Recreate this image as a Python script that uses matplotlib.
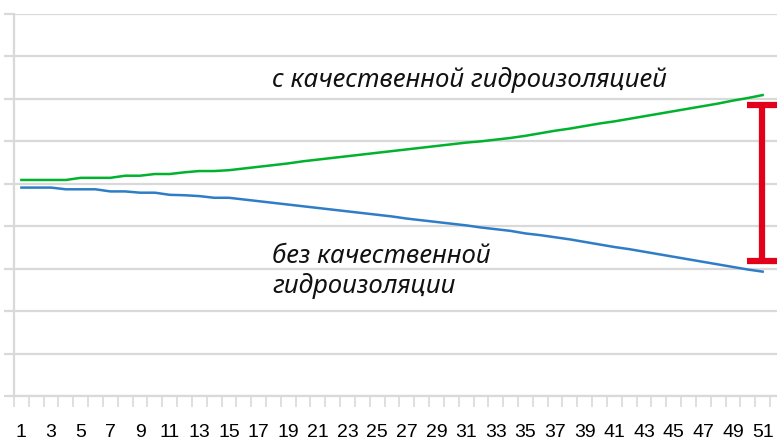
import matplotlib
matplotlib.use("Agg")
import matplotlib.pyplot as plt
from matplotlib.ticker import MultipleLocator

years = list(range(1, 52))
with_wp = [5.09, 5.09, 5.09, 5.09, 5.14, 5.14, 5.14, 5.19, 5.19, 5.23,
           5.23, 5.27, 5.30, 5.30, 5.32, 5.36, 5.40, 5.44, 5.48, 5.53,
           5.57, 5.61, 5.65, 5.69, 5.73, 5.77, 5.81, 5.85, 5.89, 5.93,
           5.97, 6.00, 6.04, 6.08, 6.13, 6.19, 6.25, 6.30, 6.36, 6.42,
           6.47, 6.53, 6.59, 6.65, 6.71, 6.77, 6.83, 6.89, 6.96, 7.02,
           7.09]
without_wp = [4.91, 4.91, 4.91, 4.87, 4.87, 4.87, 4.82, 4.82, 4.79, 4.79,
              4.74, 4.73, 4.71, 4.67, 4.67, 4.63, 4.59, 4.55, 4.51, 4.47,
              4.43, 4.39, 4.35, 4.31, 4.27, 4.23, 4.18, 4.14, 4.10, 4.06,
              4.02, 3.97, 3.93, 3.89, 3.83, 3.79, 3.74, 3.69, 3.63, 3.57,
              3.51, 3.46, 3.40, 3.34, 3.28, 3.22, 3.16, 3.10, 3.04, 2.98,
              2.93]
label_with = "с качественной гидроизоляцией"
label_without = ["без качественной", "гидроизоляции"]

W, H = 777, 442
fig = plt.figure(figsize=(W / 100, H / 100), dpi=100)
ax = fig.add_axes([14 / W, 1 - 396 / H, 1 - 14 / W, (396 - 14) / H])

grid_c = "#D9D9D9"
ax.set_xlim(0.5, 51.97)
ax.set_ylim(0, 9)
ax.yaxis.set_major_locator(MultipleLocator(1))
ax.set_yticklabels([])
ax.grid(axis="y", color=grid_c, linewidth=1.6)
ax.set_axisbelow(True)
ax.tick_params(axis="y", length=7, width=1.6, color=grid_c)

ax.set_xticks(years[::2])
ax.set_xticklabels([str(y) for y in years[::2]], fontfamily="Liberation Sans", fontsize=14)
ax.set_xticks([y + 0.5 for y in range(0, 52)], minor=True)
ax.tick_params(axis="x", which="major", length=0, pad=20)
ax.tick_params(axis="x", which="minor", length=8, width=1.2, color=grid_c)

for s in ["top", "right"]:
    ax.spines[s].set_visible(False)
for s in ["left", "bottom"]:
    ax.spines[s].set_color(grid_c)
    ax.spines[s].set_linewidth(1.6)

ax.plot(years, with_wp, color="#00B22D", linewidth=1.8)
ax.plot(years, without_wp, color="#2E7DC6", linewidth=1.8)

# red gap marker
red = "#E2001A"
ax.vlines(50.93, 3.18, 6.86, color=red, linewidth=4.5, clip_on=False)
ax.hlines([3.18, 6.86], 49.95, 51.95, color=red, linewidth=4.5, clip_on=False)

tf = dict(family=["Noto Sans", "DejaVu Sans"], style="italic", fontsize=18.6, color="#111111")
ax.text(17.91, 7.29, label_with, va="baseline", ha="left", **tf)
ax.text(17.91, 3.14, label_without[0], va="baseline", ha="left", **tf)
ax.text(17.91, 2.43, label_without[1], va="baseline", ha="left", **tf)

fig.savefig("out.png", dpi=100)
